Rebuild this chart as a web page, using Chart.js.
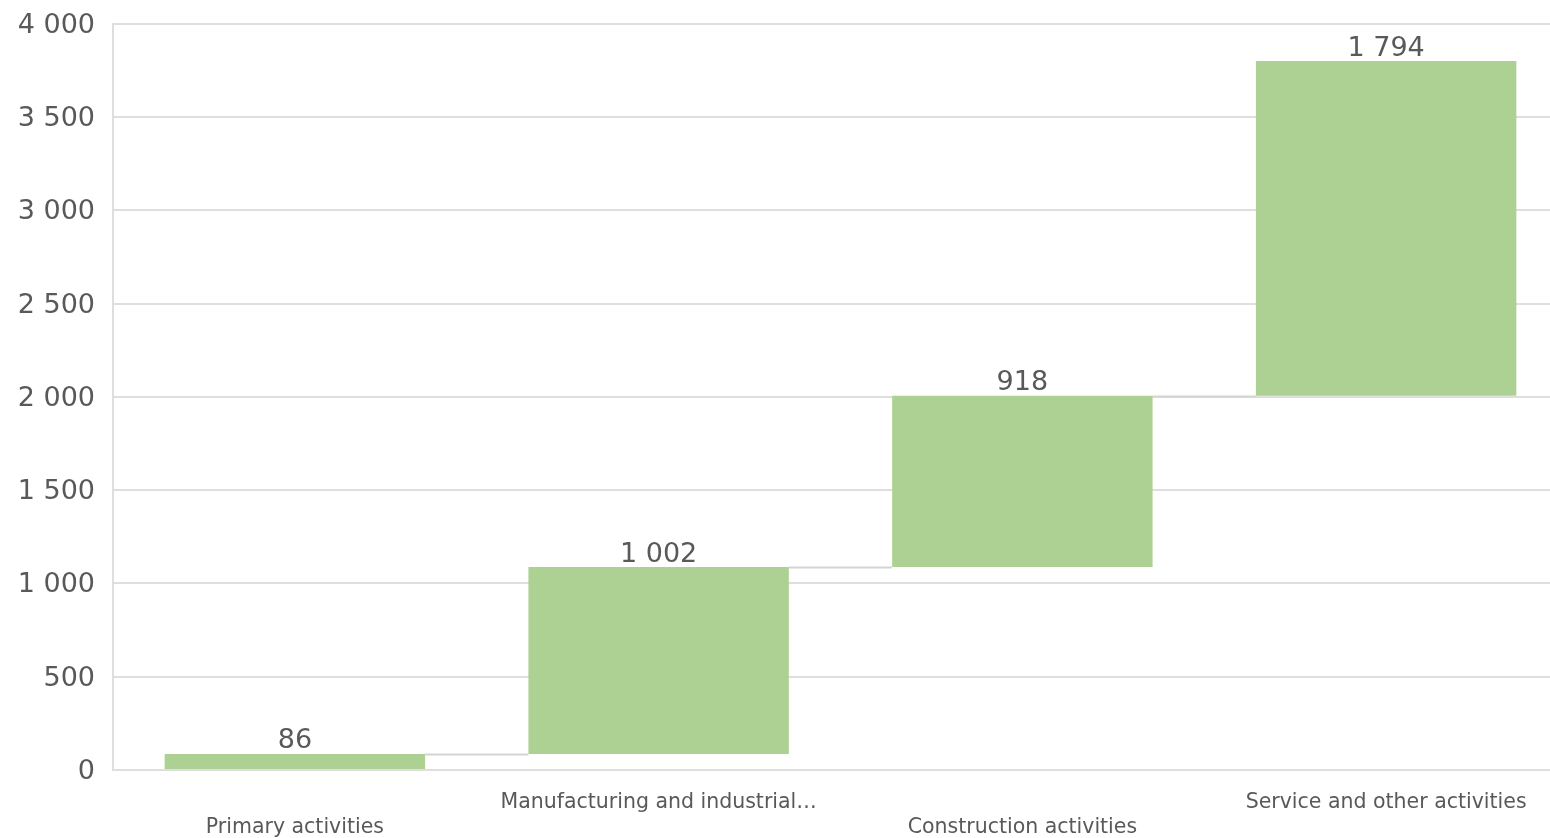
<!DOCTYPE html>
<html>
<head>
<meta charset="utf-8">
<script src="https://cdn.jsdelivr.net/npm/chart.js@4/dist/chart.umd.min.js"></script>
<style>
  html, body { margin: 0; padding: 0; background: #ffffff; overflow: hidden; }
  #wrap { width: 1568px; height: 838px; }
</style>
</head>
<body>
<div id="wrap"><canvas id="chart" width="1568" height="838"></canvas></div>
<script>
// Categories, split over two label rows so long names do not collide
const categories = [
  'Primary activities',
  'Manufacturing and industrial…',
  'Construction activities',
  'Service and other activities'
];
const labelRows = [1, 0, 1, 0];

// Increment contributed by each category
const increments = [86, 1002, 918, 1794];

// Value-axis ticks
const yTicks = [0, 500, 1000, 1500, 2000, 2500, 3000, 3500, 4000];

// Running totals for the floating bars
const totals = [];
increments.reduce((acc, v, i) => { totals[i] = acc + v; return totals[i]; }, 0);
const floating = increments.map((v, i) => [totals[i] - v, totals[i]]);

const fmt = n => String(n).replace(/\B(?=(\d{3})+(?!\d))/g, ' ');

const TEXT = '#595959';
const GRID = '#dedede';
const FONT = "'DejaVu Sans', Verdana, sans-serif";

// Thin step lines joining the top of one bar to the base of the next
const connectors = {
  id: 'connectors',
  beforeDatasetsDraw(chart) {
    const meta = chart.getDatasetMeta(0);
    const y = chart.scales.y;
    const ctx = chart.ctx;
    ctx.save();
    ctx.strokeStyle = '#d4d4d4';
    ctx.lineWidth = 2;
    for (let i = 0; i < meta.data.length - 1; i++) {
      const a = meta.data[i], b = meta.data[i + 1];
      const py = Math.round(y.getPixelForValue(totals[i])) + 0.5;
      ctx.beginPath();
      ctx.moveTo(a.x + a.width / 2, py);
      ctx.lineTo(b.x - b.width / 2, py);
      ctx.stroke();
    }
    ctx.restore();
  }
};

// Increment values printed above each bar
const valueLabels = {
  id: 'valueLabels',
  afterDatasetsDraw(chart) {
    const meta = chart.getDatasetMeta(0);
    const ctx = chart.ctx;
    ctx.save();
    ctx.fillStyle = TEXT;
    ctx.font = '27px ' + FONT;
    ctx.textAlign = 'center';
    ctx.textBaseline = 'bottom';
    meta.data.forEach((bar, i) => {
      const top = Math.min(bar.y, bar.base);
      ctx.fillText(fmt(increments[i]), bar.x, top + 1);
    });
    ctx.restore();
  }
};

new Chart(document.getElementById('chart'), {
  type: 'bar',
  data: {
    labels: categories.map((c, i) => labelRows[i] === 0 ? [c, ''] : ['', c]),
    datasets: [{
      data: floating,
      backgroundColor: '#add192',
      borderWidth: 0,
      categoryPercentage: 1,
      barPercentage: 0.716
    }]
  },
  options: {
    responsive: false,
    animation: false,
    layout: { padding: { top: 8, right: 0, bottom: 0, left: 0 } },
    plugins: {
      legend: { display: false },
      tooltip: { enabled: false }
    },
    scales: {
      x: {
        grid: { display: false, drawTicks: false },
        border: { display: true, color: GRID, width: 2 },
        ticks: {
          color: TEXT,
          font: { family: FONT, size: 20.5, lineHeight: 1.22 },
          padding: 20,
          maxRotation: 0,
          autoSkip: false
        },
        afterFit(scale) { scale.height = 68; }
      },
      y: {
        min: 0,
        max: 4000,
        afterBuildTicks(scale) { scale.ticks = yTicks.map(v => ({ value: v })); },
        grid: { color: GRID, lineWidth: 2, drawTicks: false },
        border: { display: true, color: GRID, width: 2 },
        ticks: {
          color: TEXT,
          font: { family: FONT, size: 27, lineHeight: 0.42 },
          padding: 18,
          labelOffset: 2,
          callback: v => fmt(v)
        },
        afterFit(scale) { scale.width = 113; }
      }
    }
  },
  plugins: [connectors, valueLabels]
});
</script>
</body>
</html>
